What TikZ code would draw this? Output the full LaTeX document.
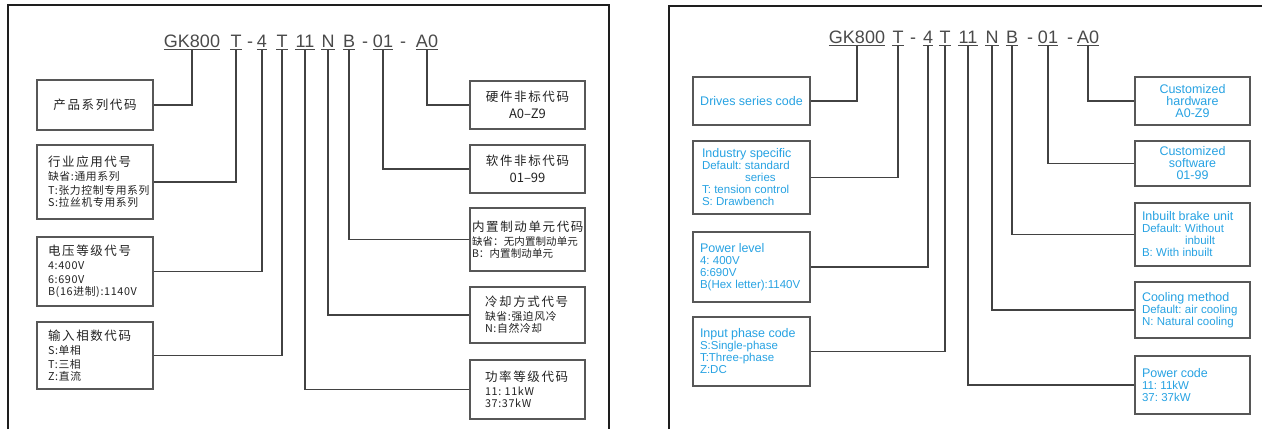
\documentclass[tikz,border=0pt]{standalone}
\usepackage{fontspec}
\setmainfont{Liberation Sans}
\newfontfamily\cjk{Noto Sans CJK SC}
\frenchspacing
\definecolor{framegray}{HTML}{1E1E1E}
\definecolor{boxgray}{HTML}{575757}
\definecolor{wiregray}{HTML}{424242}
\definecolor{codegray}{HTML}{4A4A4A}
\definecolor{cnblack}{HTML}{222222}
\definecolor{enblue}{HTML}{27A2E2}
\newcommand{\segfont}{\fontsize{18}{18}\selectfont}
\newcommand{\cnttl}{\cjk\fontsize{12.5}{14}\selectfont\addfontfeatures{LetterSpace=13}}
\newcommand{\cndet}{\cjk\fontsize{10.8}{14}\selectfont\addfontfeatures{LetterSpace=6}}
\newcommand{\cnnarrow}{\cjk\fontsize{10.5}{14}\selectfont\addfontfeatures{LetterSpace=1}}
\newcommand{\cnsub}{\cjk\fontsize{13}{14}\selectfont}
\newcommand{\engttl}{\fontsize{12.5}{12}\selectfont}
\newcommand{\engdet}{\fontsize{11.5}{12}\selectfont}
\tikzset{frame/.style={draw=framegray, line width=2pt}}
\tikzset{seg/.style={font=\segfont, text=codegray, inner sep=0pt, anchor=base}}
\tikzset{uline/.style={draw=codegray, line width=1.2pt}}
\tikzset{wire/.style={draw=wiregray, line width=1.6pt}}
\tikzset{cnbox/.style={draw=boxgray, line width=2pt, inner sep=0pt, align=left, text=cnblack}}
\tikzset{enbox/.style={draw=boxgray, line width=2pt, inner sep=0pt, align=left, text=enblue}}

\begin{document}
\begin{tikzpicture}[x=1pt,y=-1pt]
\useasboundingbox (0,0) rectangle (1262,429);

% left panel
\draw[frame] (8,429) |- (609,5) -- (609,429);

\node[seg] (Lgk) at (192,47) {GK800};
\node[seg] (Lt1) at (236,47) {T};
\node[seg] (Ld1) at (250,47) {-};
\node[seg] (Lv)  at (262,47) {4};
\node[seg] (Lt2) at (282,47) {T};
\node[seg] (Lkw) at (305,47) {11};
\node[seg] (Ln)  at (328,47) {N};
\node[seg] (Lb)  at (349,47) {B};
\node[seg] (Ld2) at (365,47) {-};
\node[seg] (Lsw) at (383,47) {01};
\node[seg] (Ld3) at (403,47) {-};
\node[seg] (Lhw) at (427,47) {A0};

\node[cnbox, minimum width=116pt, minimum height=50pt, text width=100pt, align=center] (LBser) at (95,105)
  {\cnttl 产品系列代码};
\node[cnbox, minimum width=116pt, minimum height=74pt, text width=94pt] (LBind) at (95,182)
  {\cnttl 行业应用代号\\ \cndet 缺省:通用系列\\ T:张力控制专用系列\\ S:拉丝机专用系列};
\node[cnbox, minimum width=116pt, minimum height=69pt, text width=94pt] (LBvol) at (95,271.5)
  {\cnttl 电压等级代号\\ \cndet 4:400V\\ 6:690V\\ B(16进制):1140V};
\node[cnbox, minimum width=116pt, minimum height=67pt, text width=94pt] (LBph) at (95,355.5)
  {\cnttl 输入相数代码\\ \cndet S:单相\\ T:三相\\ Z:直流};

\node[cnbox, minimum width=115pt, minimum height=48pt, text width=100pt, align=center] (LBhw) at (527.5,105)
  {\cnttl 硬件非标代码\\[5pt] \cnsub A0–Z9};
\node[cnbox, minimum width=115pt, minimum height=48pt, text width=100pt, align=center] (LBsw) at (527.5,169)
  {\cnttl 软件非标代码\\[5pt] \cnsub 01–99};
\node[cnbox, minimum width=115pt, minimum height=63pt, text width=111pt] (LBbr) at (527.5,239.5)
  {\cnttl 内置制动单元代码\\ \cnnarrow 缺省：无内置制动单元\\ B：内置制动单元};
\node[cnbox, minimum width=115pt, minimum height=56pt, text width=85pt] (LBcl) at (527.5,315)
  {\cnttl 冷却方式代号\\ \cndet 缺省:强迫风冷\\ N:自然冷却};
\node[cnbox, minimum width=115pt, minimum height=59pt, text width=85pt] (LBpw) at (527.5,389.5)
  {\cnttl 功率等级代码\\ \cndet 11: 11kW\\ 37:37kW};

\foreach \s in {Lgk,Lt1,Lv,Lt2,Lkw,Ln,Lb,Lsw,Lhw}
  \draw[uline] ([yshift=-2.5pt]\s.base west) -- ([yshift=-2.5pt]\s.base east);

\draw[wire] ([yshift=-2.5pt]Lgk.base) |- (LBser.east);
\draw[wire] ([yshift=-2.5pt]Lt1.base) |- (LBind.east);
\draw[wire] ([yshift=-2.5pt]Lv.base) |- (LBvol.east);
\draw[wire] ([yshift=-2.5pt]Lt2.base) |- (LBph.east);
\draw[wire] ([yshift=-2.5pt]Lhw.base) |- (LBhw.west);
\draw[wire] ([yshift=-2.5pt]Lsw.base) |- (LBsw.west);
\draw[wire] ([yshift=-2.5pt]Lb.base) |- (LBbr.west);
\draw[wire] ([yshift=-2.5pt]Ln.base) |- (LBcl.west);
\draw[wire] ([yshift=-2.5pt]Lkw.base) |- (LBpw.west);

% right panel
\draw[frame] (669,429) |- (1262,6);

\node[seg] (Rgk) at (857,43) {GK800};
\node[seg] (Rt1) at (898,43) {T};
\node[seg] (Rd1) at (913,43) {-};
\node[seg] (Rv)  at (928,43) {4};
\node[seg] (Rt2) at (945,43) {T};
\node[seg] (Rkw) at (968,43) {11};
\node[seg] (Rn)  at (992,43) {N};
\node[seg] (Rb)  at (1012,43) {B};
\node[seg] (Rd2) at (1030,43) {-};
\node[seg] (Rsw) at (1048,43) {01};
\node[seg] (Rd3) at (1070,43) {-};
\node[seg] (Rhw) at (1088,43) {A0};

\node[enbox, minimum width=117pt, minimum height=48pt, text width=105pt, align=center] (RBser) at (751.5,101)
  {\engttl Drives series code};
\node[enbox, minimum width=117pt, minimum height=73pt, text width=99pt] (RBind) at (751.5,177.5)
  {\engttl Industry specific\\ \engdet Default: standard\\ \hspace*{43pt}series\\ T: tension control\\ S: Drawbench};
\node[enbox, minimum width=117pt, minimum height=70pt, text width=103pt] (RBvol) at (751.5,267)
  {\engttl Power level\\ \engdet 4: 400V\\ 6:690V\\ B(Hex letter):1140V};
\node[enbox, minimum width=117pt, minimum height=69pt, text width=103pt] (RBph) at (751.5,351.5)
  {\engttl Input phase code\\ \engdet S:Single-phase\\ T:Three-phase\\ Z:DC};

\node[enbox, minimum width=115pt, minimum height=48pt, text width=100pt, align=center] (RBhw) at (1192.5,101)
  {\engttl Customized\\ hardware\\ A0-Z9};
\node[enbox, minimum width=115pt, minimum height=45pt, text width=100pt, align=center] (RBsw) at (1192.5,163.5)
  {\engttl Customized\\ software\\ 01-99};
\node[enbox, minimum width=115pt, minimum height=63pt, text width=101pt] (RBbr) at (1192.5,234.5)
  {\engttl Inbuilt brake unit\\ \engdet Default: Without\\ \hspace*{43pt}inbuilt\\ B: With inbuilt};
\node[enbox, minimum width=115pt, minimum height=56pt, text width=101pt] (RBcl) at (1192.5,310)
  {\engttl Cooling method\\ \engdet Default: air cooling\\ N: Natural cooling};
\node[enbox, minimum width=115pt, minimum height=58pt, text width=101pt] (RBpw) at (1192.5,385)
  {\engttl Power code\\ \engdet 11: 11kW\\ 37: 37kW};

\foreach \s in {Rgk,Rt1,Rv,Rt2,Rkw,Rn,Rb,Rsw,Rhw}
  \draw[uline] ([yshift=-2.5pt]\s.base west) -- ([yshift=-2.5pt]\s.base east);

\draw[wire] ([yshift=-2.5pt]Rgk.base) |- (RBser.east);
\draw[wire] ([yshift=-2.5pt]Rt1.base) |- (RBind.east);
\draw[wire] ([yshift=-2.5pt]Rv.base) |- (RBvol.east);
\draw[wire] ([yshift=-2.5pt]Rt2.base) |- (RBph.east);
\draw[wire] ([yshift=-2.5pt]Rhw.base) |- (RBhw.west);
\draw[wire] ([yshift=-2.5pt]Rsw.base) |- (RBsw.west);
\draw[wire] ([yshift=-2.5pt]Rb.base) |- (RBbr.west);
\draw[wire] ([yshift=-2.5pt]Rn.base) |- (RBcl.west);
\draw[wire] ([yshift=-2.5pt]Rkw.base) |- (RBpw.west);

\end{tikzpicture}
\end{document}
